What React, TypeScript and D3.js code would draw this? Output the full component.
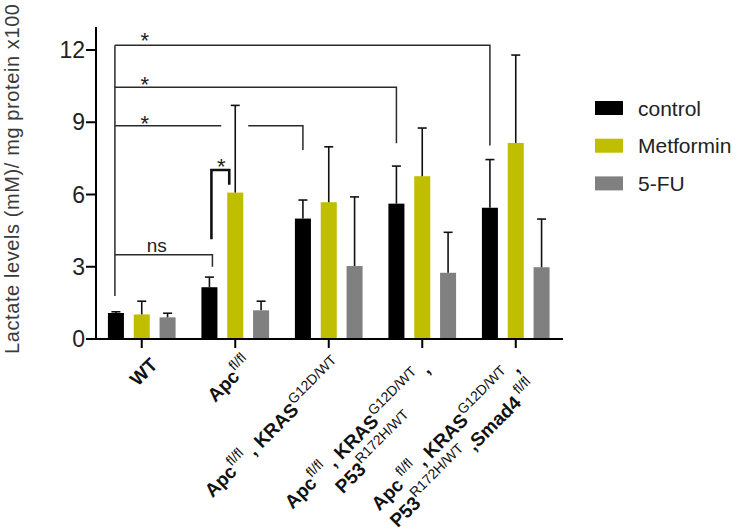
import React, { useLayoutEffect, useRef, useState } from "react";
import * as d3 from "d3";

const groups = ["WT", "Apc", "KRAS", "P53", "Smad4"];
const seriesNames = ["control", "Metformin", "5-FU"];
const seriesColors = ["#000000", "#bfbf00", "#808080"];
const controlMeans = [1.08, 2.15, 5.0, 5.62, 5.45];
const controlErr = [0.05, 0.42, 0.77, 1.56, 2.0];
const metforminMeans = [1.02, 6.08, 5.68, 6.76, 8.14];
const metforminErr = [0.55, 3.62, 2.3, 2.0, 3.65];
const fuMeans = [0.9, 1.19, 3.03, 2.75, 2.98];
const fuErr = [0.17, 0.38, 2.87, 1.68, 2.0];
const yTicks = [0, 3, 6, 9, 12];
const yTitle = "Lactate levels (mM)/ mg protein x100";

type Seg = { t: string; sup?: boolean };
const labelLine1: Seg[][] = [
  [{ t: "WT" }],
  [{ t: "Apc" }, { t: "fl/fl", sup: true }],
  [{ t: "Apc" }, { t: "fl/fl", sup: true }, { t: " , KRAS" }, { t: "G12D/WT", sup: true }],
  [{ t: "Apc" }, { t: "fl/fl", sup: true }, { t: " , KRAS" }, { t: "G12D/WT", sup: true }, { t: " ," }],
  [{ t: "Apc" }, { t: " fl/fl", sup: true }, { t: " , KRAS" }, { t: "G12D/WT", sup: true }, { t: " ," }],
];
const labelLine2: Seg[][] = [
  [],
  [],
  [],
  [{ t: "P53" }, { t: "R172H/WT", sup: true }],
  [{ t: "P53" }, { t: "R172H/WT", sup: true }, { t: " ,Smad4" }, { t: " fl/fl", sup: true }],
];
// label anchor offsets relative to the tick (layout)
const labelDx = [17, 18, 15, 9, 5];
const labelDy = [27, 26, 28, 32, 31];

// significance brackets: from WT control to target group's control bar
const bracketTargets = [4, 3, 2, 1];
const bracketLevels = [12.2, 10.45, 8.85, 3.5];
const bracketEnds = [8.03, 8.13, 7.85, 3.0];
const bracketLabels = ["*", "*", "*", "ns"];
const bracketLeftBottom = 1.79;
// Apc control vs Apc metformin
const apcBracketTop = 7.02;
const apcBracketLeftBottom = 4.14;
const apcBracketRightBottom = 6.4;
const apcBracketLabel = "*";

const W = 740;
const H = 530;
const FONT = "'Liberation Sans', Arial, sans-serif";

function renderSegs(segs: Seg[]) {
  const out: React.ReactNode[] = [];
  segs.forEach((s, i) => {
    if (s.sup) {
      out.push(
        <tspan key={i} dy={-9} fontSize={14} fontWeight="normal">
          {s.t}
        </tspan>
      );
      out.push(
        <tspan key={i + "r"} dy={9} fontSize={14}>
          {"\u200B"}
        </tspan>
      );
    } else {
      out.push(<tspan key={i}>{s.t}</tspan>);
    }
  });
  return out;
}

function XLabel({ x, y, line1, line2 }: { x: number; y: number; line1: Seg[]; line2: Seg[] }) {
  const ref = useRef<SVGTextElement>(null);
  const [w1, setW1] = useState(0);
  useLayoutEffect(() => {
    if (ref.current) setW1(ref.current.getComputedTextLength());
  }, []);
  return (
    <g transform={`translate(${x},${y}) rotate(-45)`} fontFamily={FONT} fontWeight="bold" fontSize={19} fill="#111">
      <text ref={ref} x={0} y={0} textAnchor="end">
        {renderSegs(line1)}
      </text>
      {line2.length > 0 && (
        <text x={-w1 / 2} y={25} textAnchor="middle">
          {renderSegs(line2)}
        </text>
      )}
    </g>
  );
}

export default function App() {
  const y = d3.scaleLinear().domain([0, 12]).range([339, 50]);
  const x0 = d3.scaleBand<string>().domain(groups).range([95, 562.5]).paddingInner(0).paddingOuter(0);
  const x1 = d3.scaleBand<string>().domain(seriesNames).range([0, x0.bandwidth()]).paddingInner(0.38).paddingOuter(0.5);
  const means = [controlMeans, metforminMeans, fuMeans];
  const errs = [controlErr, metforminErr, fuErr];
  const bw = x1.bandwidth();
  const barCenter = (g: number, s: number) => (x0(groups[g]) as number) + (x1(seriesNames[s]) as number) + bw / 2;
  const gc = (g: number) => (x0(groups[g]) as number) + x0.bandwidth() / 2;

  const axisX = 96;
  const axisY = y(0);
  const lineColor = "#2a2a2a";

  const leftX = barCenter(0, 0) - 1;
  const apcMetLeft = (x0(groups[1]) as number) + (x1(seriesNames[1]) as number);

  return (
    <svg width={W} height={H} style={{ position: "absolute", left: 0, top: 0 }}>
      <rect x={0} y={0} width={W} height={H} fill="#fff" />
      {/* bars */}
      {means.map((arr, s) =>
        arr.map((v, g) => (
          <rect
            key={`b${s}-${g}`}
            x={(x0(groups[g]) as number) + (x1(seriesNames[s]) as number)}
            y={y(v)}
            width={bw}
            height={y(0) - y(v)}
            fill={seriesColors[s]}
          />
        ))
      )}
      {/* error bars */}
      {means.map((arr, s) =>
        arr.map((v, g) => {
          const cx = barCenter(g, s);
          const top = y(v + errs[s][g]);
          return (
            <g key={`e${s}-${g}`} stroke="#111" strokeWidth={1.6}>
              <line x1={cx} x2={cx} y1={y(v)} y2={top} />
              <line x1={cx - 4.5} x2={cx + 4.5} y1={top} y2={top} />
            </g>
          );
        })
      )}
      {/* axes */}
      <line x1={axisX} x2={axisX} y1={y(12.95)} y2={axisY + 1} stroke="#000" strokeWidth={2} />
      <line x1={axisX - 1} x2={563} y1={axisY} y2={axisY} stroke="#000" strokeWidth={2} />
      {yTicks.map((t) => (
        <g key={`yt${t}`}>
          <line x1={axisX - 10} x2={axisX} y1={y(t)} y2={y(t)} stroke="#000" strokeWidth={2} />
          <text x={axisX - 11} y={y(t)} textAnchor="end" dominantBaseline="central" fontSize={23} fontFamily={FONT} fill="#222">
            {t}
          </text>
        </g>
      ))}
      {groups.map((g, i) => (
        <line key={`xt${g}`} x1={gc(i)} x2={gc(i)} y1={axisY} y2={axisY + 9} stroke="#000" strokeWidth={2} />
      ))}
      {/* x labels */}
      {groups.map((g, i) => (
        <XLabel key={`xl${g}`} x={gc(i) + labelDx[i]} y={axisY + labelDy[i]} line1={labelLine1[i]} line2={labelLine2[i]} />
      ))}
      {/* y title */}
      <text
        transform={`translate(19,${179}) rotate(-90)`}
        textAnchor="middle"
        fontSize={20}
        textLength={350}
        lengthAdjust="spacing"
        fontFamily={FONT}
        fill="#3a3a3a"
      >
        {yTitle}
      </text>
      {/* significance brackets */}
      <g stroke={lineColor} strokeWidth={1.5} fill="none">
        <line x1={leftX} x2={leftX} y1={y(bracketLevels[0])} y2={y(bracketLeftBottom)} />
        {bracketTargets.map((t, i) => {
          const rx = barCenter(t, 0) + (t === 1 ? 3 : 0);
          const ly = y(bracketLevels[i]);
          if (t === 2) {
            const gx = barCenter(1, 1);
            return (
              <g key={`br${i}`}>
                <line x1={leftX} x2={gx - 14} y1={ly} y2={ly} />
                <polyline points={`${gx + 13},${ly} ${rx},${ly} ${rx},${y(bracketEnds[i])}`} />
              </g>
            );
          }
          return <polyline key={`br${i}`} points={`${leftX},${ly} ${rx},${ly} ${rx},${y(bracketEnds[i])}`} />;
        })}
      </g>
      {bracketLabels.map((l, i) =>
        l === "ns" ? (
          <text key={`bl${i}`} x={gc(0) + 15} y={y(bracketLevels[i]) - 3} textAnchor="middle" fontSize={19} fontFamily={FONT} fill="#222">
            {l}
          </text>
        ) : (
          <text key={`bl${i}`} x={gc(0) + 3} y={y(bracketLevels[i]) + (i === 0 ? 3 : 5)} textAnchor="middle" fontSize={22} fontFamily={FONT} fill="#222">
            {l}
          </text>
        )
      )}
      <polyline
        points={`${barCenter(1, 0) + 2},${y(apcBracketLeftBottom)} ${barCenter(1, 0) + 2},${y(apcBracketTop)} ${apcMetLeft + 2},${y(apcBracketTop)} ${apcMetLeft + 2},${y(apcBracketRightBottom)}`}
        stroke="#111"
        strokeWidth={2.6}
        fill="none"
      />
      <text x={(barCenter(1, 0) + apcMetLeft) / 2 + 3} y={y(apcBracketTop) + 4} textAnchor="middle" fontSize={22} fontFamily={FONT} fill="#222">
        {apcBracketLabel}
      </text>
      {/* legend */}
      {seriesNames.map((s, i) => (
        <g key={`lg${s}`} transform={`translate(595,${108 + i * 37.7})`}>
          <rect x={0} y={-7} width={28} height={14} fill={seriesColors[i]} />
          <text x={43} y={0} dominantBaseline="central" fontSize={21} fontFamily={FONT} fill="#222">
            {s}
          </text>
        </g>
      ))}
    </svg>
  );
}
